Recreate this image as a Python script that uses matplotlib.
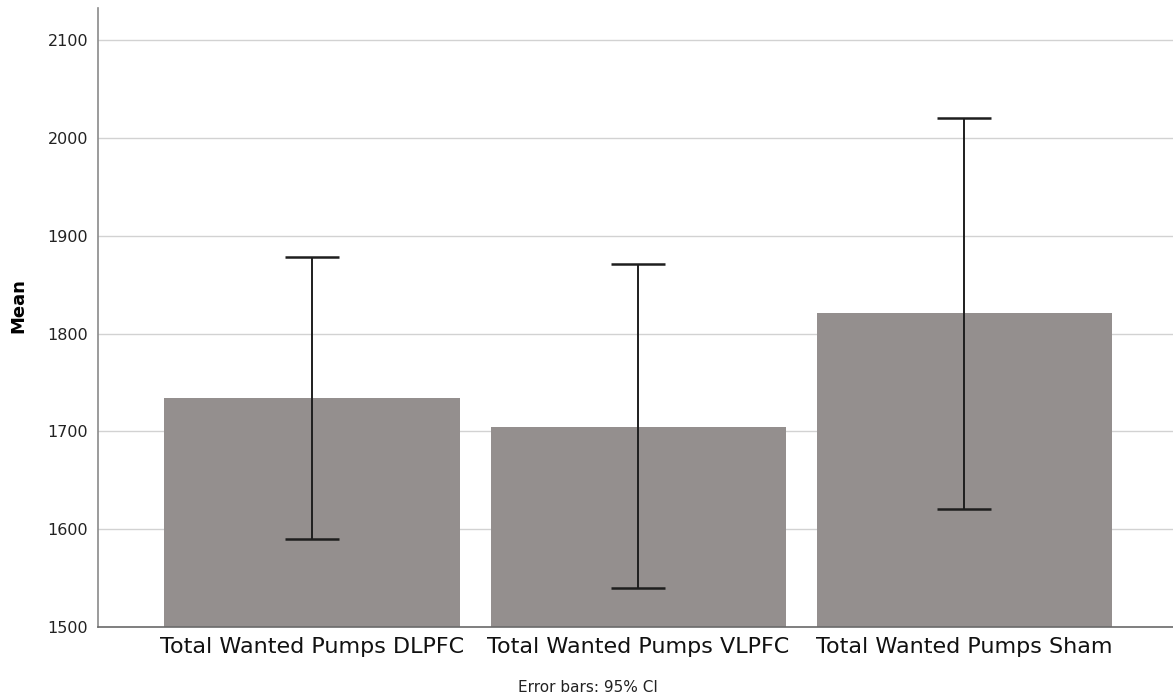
import numpy as np
import matplotlib
matplotlib.use('Agg')
import matplotlib.pyplot as plt

# data
labels = ['Total Wanted Pumps DLPFC', 'Total Wanted Pumps VLPFC', 'Total Wanted Pumps Sham']
means = [1734, 1705, 1821]
ci_low = [1590, 1540, 1621]
ci_high = [1878, 1871, 2021]

x = np.arange(len(labels))
means = np.array(means)
yerr = [means - np.array(ci_low), np.array(ci_high) - means]

fig = plt.figure(figsize=(11.73, 6.99), dpi=100)
ax = fig.add_axes([98 / 1173, 72 / 699, 1 - 98 / 1173, (627 - 8) / 699])

ax.bar(x, means, width=0.905, color='#948f8e', zorder=2)
ax.errorbar(x, means, yerr=yerr, fmt='none', ecolor='#1e1e1e', elinewidth=1.4,
            capsize=19.5, capthick=1.8, zorder=3)

ax.set_xlim(-0.656, 2.64)
ax.set_ylim(1500, 2133)
ax.set_yticks([1500, 1600, 1700, 1800, 1900, 2000, 2100])
ax.yaxis.grid(True, color='#d2d2d2', linewidth=1.0, zorder=0)
ax.set_axisbelow(True)

ax.set_xticks(x)
ax.set_xticklabels(labels, fontsize=16, color='#111111')
ax.tick_params(axis='y', length=0, pad=7, labelsize=11.5, labelcolor='#222222')
ax.tick_params(axis='x', length=0, pad=7)

ax.set_ylabel('Mean', fontsize=13, fontweight='bold', labelpad=14)
ax.yaxis.set_label_coords(-0.066, 0.52)

for side in ['top', 'right']:
    ax.spines[side].set_visible(False)
ax.spines['left'].set_color('#8a8a8a')
ax.spines['bottom'].set_color('#6a6a6a')
ax.spines['left'].set_linewidth(1.2)
ax.spines['bottom'].set_linewidth(1.2)

fig.text(588 / 1173, 1 - 688 / 699, 'Error bars: 95% CI', ha='center', va='center',
         fontsize=11, color='#222222')

fig.savefig('out.png', dpi=100)
